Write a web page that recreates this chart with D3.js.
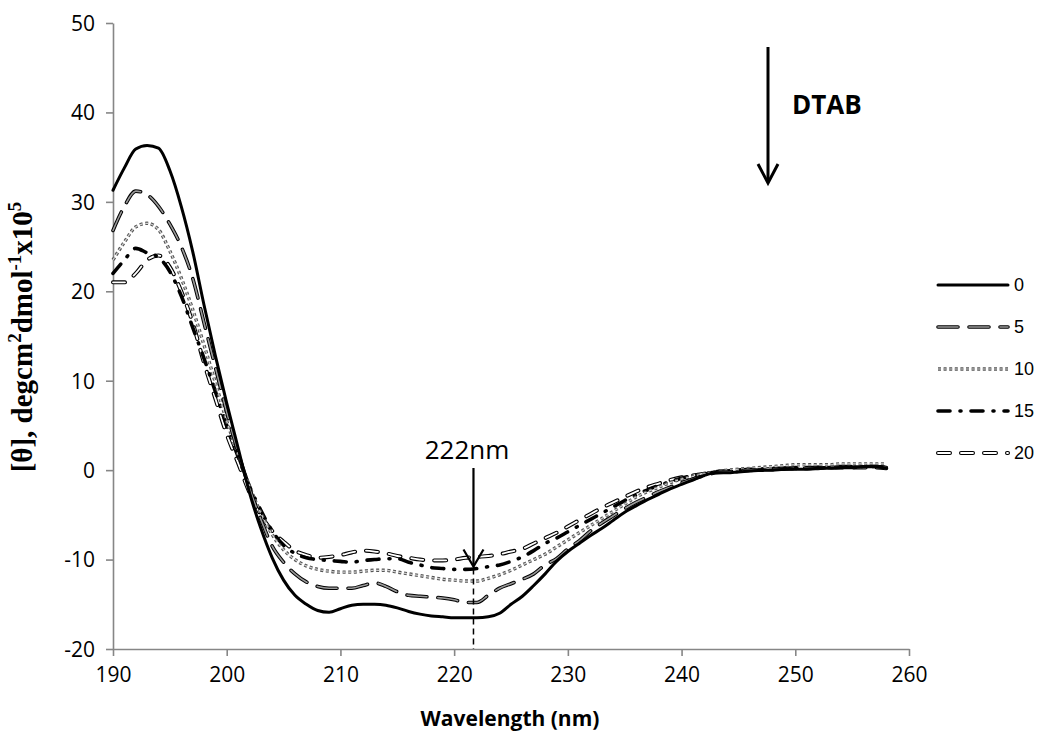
<!DOCTYPE html>
<html>
<head>
  <meta charset="utf-8">
  <script src="https://d3js.org/d3.v7.min.js"></script>
  <style>
    body { margin: 0; background: #fff; }
    .tick-label { font: 21px "Open Sans", sans-serif; fill: #000; }
    .legend-label { font: 18px "Liberation Sans", Arial, sans-serif; fill: #000; }
  </style>
</head>
<body>
  <svg width="1042" height="737"></svg>
  <script>
    // wavelengths, 1 nm steps
    var wavelengths = d3.range(190, 259);

    var s0 = [31.3, 33.8, 35.9, 36.3, 36.0, 33.5, 29.5, 24.5, 18.5, 12.8,
              7.5, 2.5, -2.5, -6.5, -9.8, -12.3, -14.0, -15.0, -15.7, -15.9,
              -15.5, -15.1, -15.0, -15.0, -15.1, -15.4, -15.8, -16.1, -16.3, -16.4,
              -16.5, -16.5, -16.5, -16.4, -16.0, -15.0, -14.1, -12.9, -11.6, -10.2,
              -9.1, -8.2, -7.3, -6.5, -5.6, -4.7, -4.0, -3.3, -2.7, -2.1,
              -1.6, -1.1, -0.6, -0.3, -0.3, -0.2, -0.1, 0.0, 0.0, 0.1,
              0.1, 0.1, 0.2, 0.2, 0.3, 0.3, 0.4, 0.4, 0.2];
    var s5 = [26.8, 29.5, 31.2, 30.8, 29.5, 27.5, 25.0, 21.5, 16.5, 11.5,
              6.5, 2.0, -2.0, -5.5, -8.5, -10.3, -11.6, -12.5, -13.0, -13.2,
              -13.2, -13.2, -12.9, -12.6, -13.0, -13.6, -14.0, -14.1, -14.2, -14.3,
              -14.5, -14.8, -14.8, -14.0, -13.2, -12.7, -12.2, -11.6, -10.6, -9.9,
              -8.8, -7.9, -6.8, -5.9, -5.1, -4.3, -3.6, -3.0, -2.4, -1.9,
              -1.4, -1.0, -0.6, -0.3, -0.2, -0.1, 0.0, 0.0, 0.1, 0.1,
              0.2, 0.2, 0.2, 0.3, 0.3, 0.3, 0.4, 0.4, 0.3];
    var s10 = [23.5, 25.5, 27.2, 27.6, 26.9, 24.5, 21.5, 18.0, 14.0, 9.8,
               5.5, 1.8, -1.8, -4.8, -7.2, -8.9, -10.0, -10.7, -11.1, -11.3,
               -11.4, -11.4, -11.3, -11.2, -11.2, -11.4, -11.6, -11.8, -12.0, -12.2,
               -12.3, -12.4, -12.4, -12.1, -11.7, -11.2, -10.6, -10.0, -9.4, -8.6,
               -7.8, -7.0, -6.2, -5.4, -4.6, -3.8, -3.0, -2.4, -1.9, -1.4,
               -1.0, -0.7, -0.4, -0.2, 0.0, 0.1, 0.2, 0.3, 0.4, 0.5,
               0.6, 0.6, 0.6, 0.6, 0.7, 0.7, 0.7, 0.7, 0.7];
    var s15 = [22.0, 23.5, 24.8, 24.3, 23.8, 22.2, 19.5, 16.0, 12.5, 8.8,
               5.0, 1.5, -1.8, -4.5, -6.8, -8.4, -9.3, -9.8, -10.0, -10.1,
               -10.2, -10.3, -10.1, -10.0, -9.9, -9.9, -10.3, -10.6, -10.9, -11.0,
               -11.1, -11.1, -11.0, -10.8, -10.6, -10.2, -9.7, -9.0, -8.2, -7.6,
               -6.9, -6.2, -5.5, -4.8, -4.1, -3.4, -2.8, -2.2, -1.7, -1.3,
               -0.9, -0.6, -0.4, -0.2, -0.1, 0.0, 0.1, 0.1, 0.2, 0.2,
               0.3, 0.3, 0.3, 0.3, 0.4, 0.4, 0.4, 0.4, 0.3];
    var s20 = [21.0, 21.0, 22.0, 23.5, 24.0, 22.7, 20.0, 16.5, 12.0, 8.0,
               4.0, 0.8, -2.5, -5.0, -6.8, -8.0, -9.0, -9.5, -9.8, -9.7,
               -9.5, -9.2, -9.0, -9.1, -9.3, -9.6, -9.8, -10.0, -10.1, -10.1,
               -10.0, -9.8, -9.7, -9.6, -9.4, -9.1, -8.8, -8.2, -7.6, -7.0,
               -6.3, -5.6, -4.9, -4.2, -3.6, -3.0, -2.4, -1.9, -1.5, -1.1,
               -0.8, -0.6, -0.4, -0.2, -0.1, 0.0, 0.0, 0.1, 0.1, 0.2,
               0.2, 0.2, 0.3, 0.3, 0.3, 0.3, 0.3, 0.3, 0.2];

    var seriesNames = ["0", "5", "10", "15", "20"];
    var seriesValues = [s0, s5, s10, s15, s20];

    var xTicks = [190, 200, 210, 220, 230, 240, 250, 260];
    var yTicks = [-20, -10, 0, 10, 20, 30, 40, 50];
    var markerWavelength = 221.7;
    var markerValue = -11;

    // each series drawn as one or two strokes (outline + inner) like the original
    var styles = [
      [{stroke: "#000", width: 3, dash: null, cap: "round"}],
      [{stroke: "#000", width: 3.6, dash: "20 11", cap: "round"},
       {stroke: "#9a9a9a", width: 1.6, dash: "20 11", cap: "round"}],
      [{stroke: "#555", width: 3.4, dash: "3 2.6", cap: "butt"},
       {stroke: "#d0d0d0", width: 1.2, dash: "3 2.6", cap: "butt"}],
      [{stroke: "#000", width: 3.6, dash: "12 10 1 10", cap: "round"}],
      [{stroke: "#000", width: 4, dash: "12 11", cap: "round"},
       {stroke: "#fff", width: 1.8, dash: "12 11", cap: "round"}]
    ];

    var svg = d3.select("svg");
    var x = d3.scaleLinear().domain([190, 260]).range([113, 909]);
    var y = d3.scaleLinear().domain([-20, 50]).range([649, 23]);
    var axisColor = "#868686";

    // y axis
    var yAxis = svg.append("g")
      .attr("transform", "translate(" + x(190) + ",0)")
      .call(d3.axisLeft(y).tickValues(yTicks).tickFormat(function(d) { return String(d); })
        .tickSize(7).tickPadding(11).tickSizeOuter(0));
    yAxis.select(".domain").attr("stroke", axisColor).attr("stroke-width", 1.6);
    yAxis.selectAll(".tick line").attr("stroke", axisColor).attr("stroke-width", 1.6);
    yAxis.selectAll(".tick text").attr("class", "tick-label").attr("dy", "0.35em");

    // x axis
    var xAxis = svg.append("g")
      .attr("transform", "translate(0," + y(-20) + ")")
      .call(d3.axisBottom(x).tickValues(xTicks).tickFormat(function(d) { return String(d); })
        .tickSize(7).tickPadding(11).tickSizeOuter(0));
    xAxis.select(".domain").attr("stroke", axisColor).attr("stroke-width", 1.6);
    xAxis.selectAll(".tick line").attr("stroke", axisColor).attr("stroke-width", 1.6);
    xAxis.selectAll(".tick text").attr("class", "tick-label");

    var line = d3.line()
      .x(function(d) { return x(d[0]); })
      .y(function(d) { return y(d[1]); })
      .curve(d3.curveMonotoneX);

    // draw in reverse so the solid line ends up on top
    for (var i = seriesValues.length - 1; i >= 0; i--) {
      var pts = wavelengths.map(function(w, j) { return [w, seriesValues[i][j]]; });
      styles[i].forEach(function(st) {
        svg.append("path")
          .attr("d", line(pts))
          .attr("fill", "none")
          .attr("stroke", st.stroke)
          .attr("stroke-width", st.width)
          .attr("stroke-dasharray", st.dash)
          .attr("stroke-linecap", st.cap)
          .attr("stroke-linejoin", "round");
      });
    }

    // legend
    var legendX = 938, legendY = 285, legendGap = 42;
    seriesNames.forEach(function(name, i) {
      var ly = legendY + i * legendGap;
      styles[i].forEach(function(st) {
        svg.append("line")
          .attr("x1", legendX).attr("x2", legendX + 70)
          .attr("y1", ly).attr("y2", ly)
          .attr("stroke", st.stroke)
          .attr("stroke-width", st.width)
          .attr("stroke-dasharray", st.dash)
          .attr("stroke-linecap", st.cap);
      });
      svg.append("text")
        .attr("class", "legend-label")
        .attr("x", legendX + 76)
        .attr("y", ly)
        .attr("dy", "0.35em")
        .text(name);
    });

    // 222 nm marker
    var mx = x(markerWavelength);
    svg.append("line")
      .attr("x1", mx).attr("x2", mx)
      .attr("y1", y(markerValue)).attr("y2", y(-20))
      .attr("stroke", "#000").attr("stroke-width", 1.5)
      .attr("stroke-dasharray", "6 4");
    svg.append("line")
      .attr("x1", mx).attr("x2", mx)
      .attr("y1", 468).attr("y2", y(markerValue) - 2)
      .attr("stroke", "#000").attr("stroke-width", 2.2);
    svg.append("path")
      .attr("d", "M" + (mx - 10) + "," + (y(markerValue) - 19) + "L" + mx + "," + (y(markerValue) - 2) + "L" + (mx + 10) + "," + (y(markerValue) - 19))
      .attr("fill", "none").attr("stroke", "#000").attr("stroke-width", 2.2);
    svg.append("text")
      .attr("x", 467).attr("y", 459)
      .attr("text-anchor", "middle")
      .style("font", "26px 'Open Sans', sans-serif")
      .text("222nm");

    // DTAB arrow
    var ax = 768;
    svg.append("line")
      .attr("x1", ax).attr("x2", ax).attr("y1", 47).attr("y2", 182)
      .attr("stroke", "#000").attr("stroke-width", 3);
    svg.append("path")
      .attr("d", "M" + (ax - 10) + ",164L" + ax + ",183L" + (ax + 10) + ",164")
      .attr("fill", "none").attr("stroke", "#000").attr("stroke-width", 3);
    svg.append("text")
      .attr("x", 792).attr("y", 114)
      .style("font", "bold 26px 'Open Sans', sans-serif")
      .text("DTAB");

    // axis titles
    svg.append("text")
      .attr("x", 510).attr("y", 726)
      .attr("text-anchor", "middle")
      .style("font", "bold 21px 'Open Sans', sans-serif")
      .text("Wavelength (nm)");

    var yt = svg.append("text")
      .attr("transform", "translate(32,337) rotate(-90)")
      .attr("text-anchor", "middle")
      .style("font", "bold 29px 'Liberation Serif', 'Times New Roman', serif");
    yt.append("tspan").text("[θ], degcm");
    yt.append("tspan").attr("dy", -11).style("font-size", "19px").text("2");
    yt.append("tspan").attr("dy", 11).text("dmol");
    yt.append("tspan").attr("dy", -11).style("font-size", "19px").text("-1");
    yt.append("tspan").attr("dy", 11).text("x10");
    yt.append("tspan").attr("dy", -11).style("font-size", "19px").text("5");
  </script>
</body>
</html>
